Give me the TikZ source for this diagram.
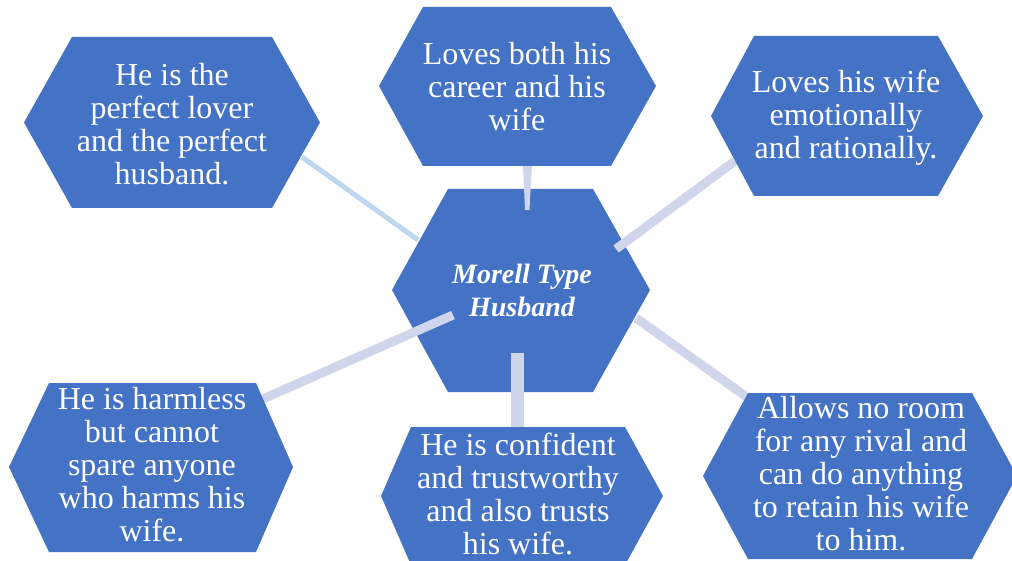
\documentclass[tikz,border=0pt]{standalone}
\usepackage{fontspec}
\setmainfont{Liberation Serif}
\definecolor{hexblue}{HTML}{4472C4}
\definecolor{lav}{HTML}{CFD5EA}
\definecolor{skyl}{HTML}{BDD7EE}
% #1 x-left, #2 x-right, #3 y-top, #4 y-mid, #5 y-bottom, #6 inset left, #7 inset right
\newcommand\hexshape[7]{%
  \fill[hexblue] (#1,#4) -- ({#1+#6},#3) -- ({#2-#7},#3) -- (#2,#4) -- ({#2-#7},#5) -- ({#1+#6},#5) -- cycle;}
\begin{document}
\begin{tikzpicture}[x=1pt,y=-1pt,
  hextext/.style={text=white,align=center,inner sep=0pt,font=\fontsize{32}{33}\selectfont},
  centertext/.style={text=white,align=center,inner sep=0pt,font=\fontsize{28}{33}\selectfont\bfseries\itshape},
  conn/.style={draw=lav,line width=9pt},
  connthin/.style={draw=skyl,line width=5pt}]
\useasboundingbox (0,0) rectangle (1012,561);
% centre hexagon
\hexshape{392}{650}{189}{290}{392}{56}{57}
% connector end points
\coordinate (tlA) at (302,157);  \coordinate (tlB) at (418,240);
\coordinate (trA) at (735,161);  \coordinate (trB) at (616,249);
\coordinate (blA) at (256,402);  \coordinate (blB) at (453,315);
\coordinate (bmA) at (517,430);  \coordinate (bmB) at (517,353);
\coordinate (brA) at (748,398);  \coordinate (brB) at (636,318);
\draw[connthin] (tlA) -- (tlB);
\draw[conn] (trA) -- (trB);
\draw[conn] (blA) -- (blB);
\draw[conn,line width=13pt] (bmA) -- (bmB);
\draw[conn] (brA) -- (brB);
\fill[lav] (523,164) -- (532,164) -- (529.5,210) -- (525,210) -- cycle;
% outer hexagons
\hexshape{24}{320}{37}{122.5}{208}{48}{48}
\hexshape{379}{656}{7}{86}{166}{44}{45}
\hexshape{711}{983}{36}{116}{196}{43}{45}
\hexshape{9}{293}{383}{467}{552}{40}{37}
\hexshape{381}{663}{427}{496}{565}{30}{38}
\hexshape{703}{1017}{393}{476}{559}{45}{45}
% texts
\node[centertext] (c) at (522,290) {Morell Type\\Husband};
\node[hextext] (tl) at (172,124) {He is the\\perfect lover\\and the perfect\\husband.};
\node[hextext] (tm) at (517,87) {Loves both his\\career and his\\wife};
\node[hextext] (tr) at (846,118) {Loves his wife\\emotionally\\and rationally.};
\node[hextext] (bl) at (152,465) {He is harmless\\but cannot\\spare anyone\\who harms his\\wife.};
\node[hextext] (bm) at (518,494) {He is confident\\and trustworthy\\and also trusts\\his wife.};
\node[hextext] (br) at (861,474) {Allows no room\\for any rival and\\can do anything\\to retain his wife\\to him.};
\end{tikzpicture}
\end{document}
